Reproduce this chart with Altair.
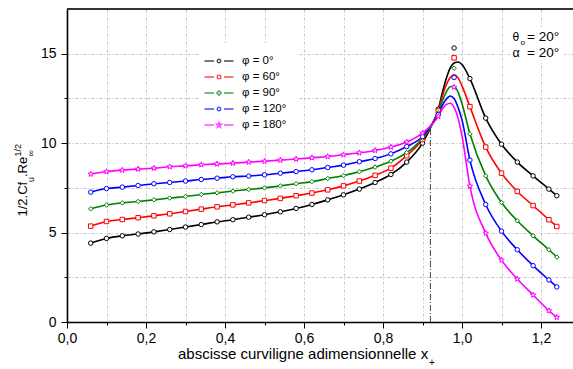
import altair as alt
import pandas as pd

FONT = "Liberation Sans"

series = ["φ = 0°", "φ = 60°", "φ = 90°", "φ = 120°", "φ = 180°"]
colors = ["#000000", "#ff0000", "#008000", "#0000ff", "#ff00ff"]

# marker abscissae
x_pts = [0.06, 0.10, 0.14, 0.18, 0.22, 0.26, 0.30, 0.34, 0.38, 0.42, 0.46,
         0.50, 0.54, 0.58, 0.62, 0.66, 0.70, 0.74, 0.78, 0.82, 0.86, 0.90,
         0.94, 0.98, 1.02, 1.06, 1.10, 1.14, 1.18, 1.22, 1.24]
y_phi0 = [4.41, 4.67, 4.82, 4.92, 5.04, 5.17, 5.31, 5.45, 5.60, 5.72, 5.86,
          6.00, 6.16, 6.35, 6.57, 6.83, 7.11, 7.43, 7.80, 8.25, 8.94, 10.00,
          11.90, 15.32, 13.61, 11.40, 9.94, 8.94, 8.17, 7.43, 7.06]
y_phi60 = [5.36, 5.62, 5.73, 5.83, 5.94, 6.05, 6.18, 6.31, 6.44, 6.55, 6.66,
           6.79, 6.91, 7.06, 7.21, 7.39, 7.61, 7.88, 8.20, 8.60, 9.30, 10.20,
           11.80, 14.77, 12.04, 9.78, 8.32, 7.30, 6.51, 5.72, 5.34]
y_phi90 = [6.33, 6.54, 6.66, 6.74, 6.83, 6.93, 7.02, 7.13, 7.22, 7.32, 7.41,
           7.50, 7.61, 7.73, 7.85, 8.02, 8.19, 8.40, 8.66, 8.99, 9.47, 10.28,
           11.70, 14.19, 10.52, 8.17, 6.68, 5.66, 4.82, 4.04, 3.63]
y_phi120 = [7.26, 7.46, 7.54, 7.63, 7.73, 7.80, 7.88, 7.97, 8.04, 8.12, 8.16,
            8.23, 8.32, 8.41, 8.51, 8.64, 8.77, 8.96, 9.14, 9.40, 9.81, 10.37,
            11.60, 13.67, 9.05, 6.57, 5.08, 4.04, 3.15, 2.35, 1.96]
y_phi180 = [8.27, 8.41, 8.49, 8.55, 8.60, 8.68, 8.73, 8.79, 8.84, 8.88, 8.94,
            8.99, 9.05, 9.11, 9.18, 9.25, 9.35, 9.46, 9.59, 9.78, 10.06, 10.56,
            11.50, 13.13, 7.60, 4.97, 3.46, 2.40, 1.51, 0.63, 0.26]

# smooth-curve values around the peak (curve differs from markers there)
peak_x = [0.92, 0.94, 0.95, 0.96, 0.97, 0.98, 0.99, 1.00]
peak_phi0 = [10.85, 11.90, 12.80, 13.60, 14.20, 14.48, 14.54, 14.40]
peak_phi60 = [10.90, 11.80, 12.60, 13.25, 13.65, 13.82, 13.65, 13.20]
peak_phi90 = [10.90, 11.70, 12.35, 12.85, 13.15, 13.18, 12.85, 12.20]
peak_phi120 = [10.95, 11.60, 12.10, 12.45, 12.64, 12.50, 12.00, 11.30]
peak_phi180 = [10.95, 11.50, 11.90, 12.15, 12.23, 12.00, 11.40, 10.40]

x_ticks = [0.0, 0.1, 0.2, 0.3, 0.4, 0.5, 0.6, 0.7, 0.8, 0.9, 1.0, 1.1, 1.2]
y_ticks = [0, 2.5, 5, 7.5, 10, 12.5, 15]
x_domain = [0, 1.281]
y_domain = [0, 17.5]
x_crit = [0.92]
y_crit_lo = [0.0]
y_crit_hi = [10.9]

STAR = ("M0,-1.3L0.31,-0.42L1.24,-0.40L0.49,0.16L0.76,1.05L0,0.52L-0.76,1.05"
        "L-0.49,0.16L-1.24,-0.40L-0.31,-0.42Z")
marker_shapes = ["circle", "square", "diamond", "circle", STAR]

LINES = "M-2.9,0L-1.0,0M1.0,0L2.9,0"
legend_shapes = [
    LINES + "M-0.34,0A0.34,0.34 0 1,0 0.34,0A0.34,0.34 0 1,0 -0.34,0Z",
    LINES + "M-0.32,-0.32L0.32,-0.32L0.32,0.32L-0.32,0.32Z",
    LINES + "M0,-0.44L0.44,0L0,0.44L-0.44,0Z",
    LINES + "M-0.34,0A0.34,0.34 0 1,0 0.34,0A0.34,0.34 0 1,0 -0.34,0Z",
    LINES + ("M0,-0.55L0.13,-0.18L0.52,-0.17L0.21,0.07L0.32,0.44L0,0.22L-0.32,0.44"
             "L-0.21,0.07L-0.52,-0.17L-0.13,-0.18Z"),
]

pts_rows, line_rows = [], []
for s, ys_, pk in zip(series, [y_phi0, y_phi60, y_phi90, y_phi120, y_phi180],
                      [peak_phi0, peak_phi60, peak_phi90, peak_phi120, peak_phi180]):
    for x, y in zip(x_pts, ys_):
        pts_rows.append({"x": x, "y": y, "s": s})
        if not (peak_x[0] <= x <= peak_x[-1]):
            line_rows.append({"x": x, "y": y, "s": s})
    for x, y in zip(peak_x, pk):
        line_rows.append({"x": x, "y": y, "s": s})
pts = pd.DataFrame(pts_rows)
lines = pd.DataFrame(line_rows)

xs = alt.Scale(domain=x_domain, nice=False, zero=False)
ys = alt.Scale(domain=y_domain, nice=False, zero=False)
col_scale = alt.Scale(domain=series, range=colors)

x_axis = alt.Axis(
    values=x_ticks, title=None, grid=True, gridColor="#c4c4c4", gridDash=[3, 2, 1, 2],
    gridWidth=1, domainColor="black", domainWidth=1.6, tickColor="black", tickWidth=1,
    tickSize={"condition": {"test": "round(datum.value*10) % 2 == 0", "value": 6}, "value": 3},
    labelExpr="round(datum.value*10) % 2 == 0 ? replace(format(datum.value, '.1f'), '.', ',') : ''",
    labelFont=FONT, labelFontSize=14, labelColor="black", labelPadding=3, labelFlush=False,
    labelOverlap=False,
)
y_axis = alt.Axis(
    values=y_ticks, title=None, grid=True, gridColor="#c4c4c4", gridDash=[3, 2, 1, 2],
    gridWidth=1, domainColor="black", domainWidth=1.6, tickColor="black", tickWidth=1,
    tickSize={"condition": {"test": "datum.value % 5 == 0", "value": 6}, "value": 3},
    labelExpr="datum.value % 5 == 0 ? format(datum.value, 'd') : ''",
    labelFont=FONT, labelFontSize=14, labelColor="black", labelPadding=5,
    labelOverlap=False,
)

W, H = 506, 313

bg = alt.Chart(pd.DataFrame({"a": [0]})).mark_rect(color="white").encode(
    x=alt.value(443), x2=alt.value(497), y=alt.value(18), y2=alt.value(51))

crit = alt.Chart(pd.DataFrame({"x": x_crit, "y1": y_crit_lo, "y2": y_crit_hi})).mark_rule(
    color="#444444", strokeWidth=1, strokeDash=[6, 2, 1, 2]).encode(
    x=alt.X("x:Q", scale=xs, axis=x_axis),
    y=alt.Y("y1:Q", scale=ys, axis=y_axis),
    y2="y2:Q",
)

line_layer = alt.Chart(lines).mark_line(strokeWidth=1.6, interpolate="monotone").encode(
    x=alt.X("x:Q", scale=xs, axis=x_axis),
    y=alt.Y("y:Q", scale=ys, axis=y_axis),
    color=alt.Color("s:N", scale=col_scale, legend=None),
    detail="s:N",
)

marker_layer = alt.Chart(pts).mark_point(filled=False, fill="white", strokeWidth=1, size=20,
                                         opacity=1).encode(
    x=alt.X("x:Q", scale=xs, axis=x_axis),
    y=alt.Y("y:Q", scale=ys, axis=y_axis),
    color=alt.Color("s:N", scale=col_scale, legend=None),
    shape=alt.Shape("s:N", scale=alt.Scale(domain=series, range=marker_shapes), legend=None),
)

leg = alt.Legend(orient="none", legendX=134, legendY=34, title=None, fillColor="white",
                 padding=12, labelFont=FONT, labelFontSize=11.5, labelColor="black",
                 symbolSize=100, symbolStrokeWidth=1.4, labelOffset=17, rowPadding=4)
legend_layer = alt.Chart(pts).transform_filter("datum.x > 100").mark_point(
    filled=False, strokeWidth=1.4, size=100).encode(
    x=alt.X("x:Q", scale=xs, axis=x_axis),
    y=alt.Y("y:Q", scale=ys, axis=y_axis),
    color=alt.Color("s:N", scale=col_scale, legend=leg),
    shape=alt.Shape("s:N", scale=alt.Scale(domain=series, range=legend_shapes), legend=leg),
)


def txt(t, px, py, size, angle=0):
    return alt.Chart(pd.DataFrame({"a": [0]})).mark_text(
        text=t, align="left", baseline="alphabetic", angle=angle, fontSize=size,
        font=FONT, color="black").encode(x=alt.value(px), y=alt.value(py))


texts = [
    # y title
    txt("1/2.Cf", -40, 207.5, 13, 270),
    txt("u", -33, 173.0, 9, 270),
    txt(".Re", -40, 168.0, 13, 270),
    txt("∞", -33, 147.5, 9, 270),
    txt("1/2", -46, 147.5, 9, 270),
    # x title
    txt("abscisse curviligne adimensionnelle x", 111, 349.5, 15),
    txt("+", 362, 357, 10),
    # annotation
    txt("θ", 445.5, 31.5, 12),
    txt("o", 453.5, 36, 8),
    txt("= 20°", 460, 31.5, 13.5),
    txt("α", 445.5, 48.3, 12.5),
    txt("= 20°", 460, 48.3, 13.5),
]

top_border = alt.Chart(pd.DataFrame({"a": [0]})).mark_rule(color="#333333", strokeWidth=2).encode(
    x=alt.value(0), x2=alt.value(W), y=alt.value(0))

chart = alt.layer(bg, crit, line_layer, marker_layer, legend_layer, *texts, top_border).resolve_scale(
    color="independent", shape="independent"
).properties(
    width=W, height=H,
    padding={"left": 67, "top": 9, "right": 0, "bottom": 47},
    autosize=alt.AutoSizeParams(type="none"),
).configure_view(stroke=None).configure(background="white")

chart.save("out.html", embed_options={"renderer": "svg", "actions": False})
